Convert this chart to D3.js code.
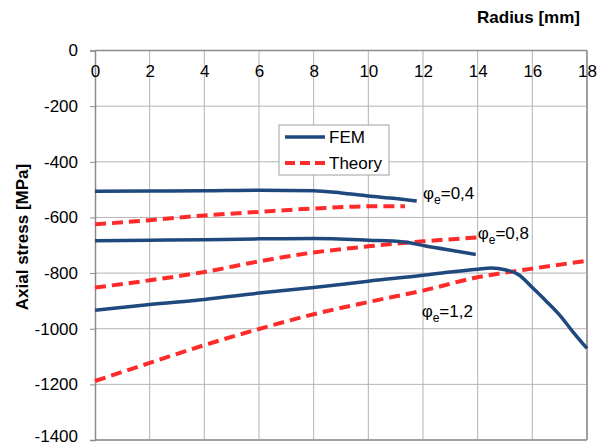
<!DOCTYPE html>
<html><head><meta charset="utf-8">
<script src="https://cdn.jsdelivr.net/npm/d3@7"></script>
<style>
body{margin:0;background:#fff;}
text{font-family:Arial,"Liberation Sans",sans-serif;}
</style></head>
<body><svg id="c" width="604" height="448"></svg>
<script>
const xTicks = [0,2,4,6,8,10,12,14,16,18];
const yTicks = [0,-200,-400,-600,-800,-1000,-1200,-1400];

const fem04R = [0,2,4,6,8,9,10,11,11.77];
const fem04V = [-506,-505,-504,-502,-504,-512,-523,-532,-541];
const th04R = [0,2,4,6,8,10,11.34];
const th04V = [-625,-610,-593,-580,-568,-560,-560];

const fem08R = [0,2,4,6,8,10,11.3,12.1,13.4,13.93];
const fem08V = [-684,-682,-680,-677,-676,-682,-688,-703,-724,-733];
const th08R = [0,2,4,6,8,10,12,13.98];
const th08V = [-852,-826,-796,-758,-726,-704,-686,-672];

const fem12R = [0,2,4,6,8,10,12,13,14,14.5,15,15.5,16,16.5,17,17.5,18];
const fem12V = [-934,-913,-895,-872,-852,-829,-808,-796,-786,-782,-788,-806,-852,-900,-951,-1013,-1071];
const th12R = [0,2,4,6,8,10,12,14,16,18];
const th12V = [-1188,-1123,-1059,-1001,-948,-904,-863,-815,-784,-756];

const seriesNames = ["FEM","Theory"];
const labels = ["0,4","0,8","1,2"];

const svg = d3.select("#c");
const L=95,R=587,T=50.5,B=440;
const x = d3.scaleLinear().domain([0,18]).range([L,R]);
const y = d3.scaleLinear().domain([0,-1400]).range([T,B]);

const gridC="#b4b4b4", axisC="#8c8c8c";
// grid
svg.append("g").selectAll("line.v").data(xTicks.slice(1,-1)).join("line")
  .attr("x1",d=>x(d)).attr("x2",d=>x(d)).attr("y1",T).attr("y2",B)
  .attr("stroke",gridC).attr("stroke-width",1);
svg.append("g").selectAll("line.h").data(yTicks.slice(1,-1)).join("line")
  .attr("x1",L).attr("x2",R).attr("y1",d=>y(d)).attr("y2",d=>y(d))
  .attr("stroke",gridC).attr("stroke-width",1);
// border right/bottom
svg.append("line").attr("x1",R).attr("x2",R).attr("y1",T).attr("y2",B).attr("stroke","#a0a0a0").attr("stroke-width",2);
svg.append("line").attr("x1",L).attr("x2",R).attr("y1",B).attr("y2",B).attr("stroke","#a0a0a0").attr("stroke-width",2);

// axes
const ya = svg.append("g").attr("transform",`translate(${L},0)`)
  .call(d3.axisLeft(y).tickValues(yTicks).tickSize(5).tickPadding(12).tickFormat(d=>String(d)));
const xa = svg.append("g").attr("transform",`translate(0,${T})`)
  .call(d3.axisBottom(x).tickValues(xTicks).tickSize(0).tickPadding(14).tickFormat(d=>String(d)));
[ya,xa].forEach(g=>{
  g.select(".domain").attr("stroke",axisC).attr("stroke-width",1.5);
  g.selectAll(".tick line").attr("stroke",axisC);
  g.selectAll("text").attr("font-size",17).attr("fill","#000").attr("font-family","Arial,'Liberation Sans',sans-serif");
});
xa.select(".domain").attr("d",`M${L},0H${R}`);
// keep the bottom label inside the canvas
ya.selectAll(".tick text").filter(d=>d===-1400).attr("dy","0.1em");

// titles
svg.append("text").attr("x",580).attr("y",23).attr("text-anchor","end")
  .attr("font-size",17).attr("font-weight","bold").text("Radius [mm]");
svg.append("text").attr("transform","translate(28,237) rotate(-90)").attr("text-anchor","middle")
  .attr("font-size",17).attr("font-weight","bold").text("Axial stress [MPa]");

const line = d3.line().x(d=>x(d[0])).y(d=>y(d[1])).curve(d3.curveMonotoneX);
const zip=(a,b)=>a.map((v,i)=>[v,b[i]]);
const blue="#1f497d", red="#ff2b2b";
function drawFem(r,v){svg.append("path").attr("d",line(zip(r,v))).attr("fill","none").attr("stroke",blue).attr("stroke-width",3.5).attr("stroke-linejoin","round");}
function drawTh(r,v){svg.append("path").attr("d",line(zip(r,v))).attr("fill","none").attr("stroke",red).attr("stroke-width",4).attr("stroke-dasharray","11,6");}
drawTh(th04R,th04V); drawTh(th08R,th08V); drawTh(th12R,th12V);
drawFem(fem04R,fem04V); drawFem(fem08R,fem08V); drawFem(fem12R,fem12V);

// legend
const lg = svg.append("g");
lg.append("rect").attr("x",279).attr("y",125).attr("width",110).attr("height",50).attr("fill","#fff").attr("stroke","#a0a0a0").attr("stroke-width",1);
lg.append("line").attr("x1",285).attr("x2",325).attr("y1",137).attr("y2",137).attr("stroke",blue).attr("stroke-width",3.5);
lg.append("line").attr("x1",285).attr("x2",325).attr("y1",163).attr("y2",163).attr("stroke",red).attr("stroke-width",4).attr("stroke-dasharray","10,5");
lg.append("text").attr("x",329).attr("y",143).attr("font-size",17).text(seriesNames[0]);
lg.append("text").attr("x",329).attr("y",169).attr("font-size",17).text(seriesNames[1]);

// annotations
const ann = [[12.0,-534,labels[0]],[14.0,-676,labels[1]],[11.95,-958,labels[2]]];
ann.forEach(a=>{
  const t = svg.append("text").attr("x",x(a[0])).attr("y",y(a[1])).attr("font-size",17);
  t.append("tspan").text("φ");
  t.append("tspan").attr("font-size",12).attr("dy",5).text("e");
  t.append("tspan").attr("dy",-5).text("="+a[2]);
});
</script></body></html>
